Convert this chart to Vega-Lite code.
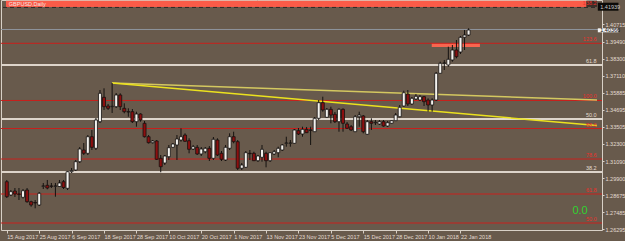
{
  "$schema": "https://vega.github.io/schema/vega-lite/v6.json",
  "width": 601,
  "height": 230,
  "autosize": {"type": "none"},
  "padding": {"left": 1, "top": 0, "right": 23, "bottom": 11},
  "background": "#685a4c",
  "config": {
    "view": {"stroke": "#d8d0c6", "strokeWidth": 1, "fill": "#685a4c"},
    "font": "Liberation Sans",
    "axis": {"labelOverlap": false, "labelFlush": false, "labelBound": false, "grid": false, "domain": false, "labelFontSize": 5.5, "labelColor": "#e4dcd2", "tickColor": "#d8d0c6", "labelPadding": 1}
  },
  "datasets": {
    "candles": [
      {"i":0,"o":1.29643,"h":1.29763,"l":1.28497,"c":1.28588},
      {"i":1,"o":1.28708,"h":1.29059,"l":1.28637,"c":1.28940},
      {"i":2,"o":1.28989,"h":1.29200,"l":1.28567,"c":1.28778},
      {"i":3,"o":1.28778,"h":1.29200,"l":1.28356,"c":1.28757},
      {"i":4,"o":1.28546,"h":1.29130,"l":1.28462,"c":1.29010},
      {"i":5,"o":1.29059,"h":1.29200,"l":1.28166,"c":1.28236},
      {"i":6,"o":1.28236,"h":1.28307,"l":1.27885,"c":1.28004},
      {"i":7,"o":1.28180,"h":1.28356,"l":1.27772,"c":1.28145},
      {"i":8,"o":1.28004,"h":1.28919,"l":1.27934,"c":1.28827},
      {"i":9,"o":1.29320,"h":1.29552,"l":1.29130,"c":1.29341},
      {"i":10,"o":1.29390,"h":1.29763,"l":1.29109,"c":1.29200},
      {"i":11,"o":1.29341,"h":1.29552,"l":1.29200,"c":1.29320},
      {"i":12,"o":1.29320,"h":1.29552,"l":1.28588,"c":1.29341},
      {"i":13,"o":1.29306,"h":1.29763,"l":1.29270,"c":1.29552},
      {"i":14,"o":1.29643,"h":1.29763,"l":1.29130,"c":1.29235},
      {"i":15,"o":1.29179,"h":1.30400,"l":1.29059,"c":1.30347},
      {"i":16,"o":1.30347,"h":1.30607,"l":1.30255,"c":1.30431},
      {"i":17,"o":1.30466,"h":1.31170,"l":1.30396,"c":1.31050},
      {"i":18,"o":1.31050,"h":1.32084,"l":1.30959,"c":1.31943},
      {"i":19,"o":1.31873,"h":1.32365,"l":1.31521,"c":1.31641},
      {"i":20,"o":1.31641,"h":1.32928,"l":1.31521,"c":1.32808},
      {"i":21,"o":1.32808,"h":1.33280,"l":1.31873,"c":1.32063},
      {"i":22,"o":1.31993,"h":1.34124,"l":1.31873,"c":1.33983},
      {"i":23,"o":1.33864,"h":1.36093,"l":1.33772,"c":1.35861},
      {"i":24,"o":1.35580,"h":1.36213,"l":1.34687,"c":1.34919},
      {"i":25,"o":1.34968,"h":1.35109,"l":1.34687,"c":1.34806},
      {"i":26,"o":1.34919,"h":1.36586,"l":1.34476,"c":1.34947},
      {"i":27,"o":1.34919,"h":1.35882,"l":1.34827,"c":1.35742},
      {"i":28,"o":1.35742,"h":1.35861,"l":1.34687,"c":1.34919},
      {"i":29,"o":1.34806,"h":1.35158,"l":1.34454,"c":1.34567},
      {"i":30,"o":1.34567,"h":1.34806,"l":1.34215,"c":1.34546},
      {"i":31,"o":1.34567,"h":1.34757,"l":1.33772,"c":1.33864},
      {"i":32,"o":1.33864,"h":1.34567,"l":1.33512,"c":1.34405},
      {"i":33,"o":1.34405,"h":1.34454,"l":1.33864,"c":1.33983},
      {"i":34,"o":1.33751,"h":1.33913,"l":1.32752,"c":1.32808},
      {"i":35,"o":1.32808,"h":1.32928,"l":1.32330,"c":1.32386},
      {"i":36,"o":1.32386,"h":1.32576,"l":1.32330,"c":1.32506},
      {"i":37,"o":1.32506,"h":1.32576,"l":1.31170,"c":1.31219},
      {"i":38,"o":1.31289,"h":1.31521,"l":1.30304,"c":1.30698},
      {"i":39,"o":1.30959,"h":1.31521,"l":1.30818,"c":1.31451},
      {"i":40,"o":1.31402,"h":1.32225,"l":1.31170,"c":1.32035},
      {"i":41,"o":1.32063,"h":1.32365,"l":1.32014,"c":1.32295},
      {"i":42,"o":1.32225,"h":1.32928,"l":1.31170,"c":1.32647},
      {"i":43,"o":1.32576,"h":1.33399,"l":1.32457,"c":1.32808},
      {"i":44,"o":1.32928,"h":1.33048,"l":1.32457,"c":1.32485},
      {"i":45,"o":1.32527,"h":1.32696,"l":1.31641,"c":1.31922},
      {"i":46,"o":1.31943,"h":1.32225,"l":1.31873,"c":1.32105},
      {"i":47,"o":1.32063,"h":1.32225,"l":1.31521,"c":1.31592},
      {"i":48,"o":1.31592,"h":1.32084,"l":1.31451,"c":1.31943},
      {"i":49,"o":1.31753,"h":1.32084,"l":1.31641,"c":1.31993},
      {"i":50,"o":1.31993,"h":1.32154,"l":1.31099,"c":1.31289},
      {"i":51,"o":1.31289,"h":1.32787,"l":1.31170,"c":1.32626},
      {"i":52,"o":1.32576,"h":1.32696,"l":1.31451,"c":1.31521},
      {"i":53,"o":1.31641,"h":1.31803,"l":1.31099,"c":1.31219},
      {"i":54,"o":1.31170,"h":1.32225,"l":1.31099,"c":1.32063},
      {"i":55,"o":1.31993,"h":1.33048,"l":1.31873,"c":1.32808},
      {"i":56,"o":1.32808,"h":1.33160,"l":1.32344,"c":1.32457},
      {"i":57,"o":1.32457,"h":1.32576,"l":1.30466,"c":1.30586},
      {"i":58,"o":1.30586,"h":1.30959,"l":1.30466,"c":1.30818},
      {"i":59,"o":1.30656,"h":1.31803,"l":1.30607,"c":1.31683},
      {"i":60,"o":1.31641,"h":1.31873,"l":1.31170,"c":1.31613},
      {"i":61,"o":1.31641,"h":1.31753,"l":1.31099,"c":1.31120},
      {"i":62,"o":1.31120,"h":1.31521,"l":1.31029,"c":1.31451},
      {"i":63,"o":1.31360,"h":1.32225,"l":1.31050,"c":1.31922},
      {"i":64,"o":1.31641,"h":1.31753,"l":1.30656,"c":1.31120},
      {"i":65,"o":1.31120,"h":1.31732,"l":1.31029,"c":1.31683},
      {"i":66,"o":1.31592,"h":1.31873,"l":1.31521,"c":1.31753},
      {"i":67,"o":1.31683,"h":1.32105,"l":1.31360,"c":1.31993},
      {"i":68,"o":1.31873,"h":1.32295,"l":1.31803,"c":1.32225},
      {"i":69,"o":1.32344,"h":1.32808,"l":1.32105,"c":1.32365},
      {"i":70,"o":1.32344,"h":1.32576,"l":1.32105,"c":1.32365},
      {"i":71,"o":1.32344,"h":1.33350,"l":1.32295,"c":1.33280},
      {"i":72,"o":1.33230,"h":1.33420,"l":1.32928,"c":1.32998},
      {"i":73,"o":1.32998,"h":1.33512,"l":1.32808,"c":1.33329},
      {"i":74,"o":1.33329,"h":1.33491,"l":1.33069,"c":1.33090},
      {"i":75,"o":1.33280,"h":1.33512,"l":1.32225,"c":1.33259},
      {"i":76,"o":1.33160,"h":1.34194,"l":1.33139,"c":1.34103},
      {"i":77,"o":1.34103,"h":1.35390,"l":1.33983,"c":1.35200},
      {"i":78,"o":1.35200,"h":1.35622,"l":1.34567,"c":1.34687},
      {"i":79,"o":1.34173,"h":1.34827,"l":1.34124,"c":1.34736},
      {"i":80,"o":1.34736,"h":1.34919,"l":1.33751,"c":1.34335},
      {"i":81,"o":1.34384,"h":1.34546,"l":1.33772,"c":1.33864},
      {"i":82,"o":1.33864,"h":1.34806,"l":1.33160,"c":1.34736},
      {"i":83,"o":1.34736,"h":1.34806,"l":1.33160,"c":1.33751},
      {"i":84,"o":1.33702,"h":1.33843,"l":1.33350,"c":1.33399},
      {"i":85,"o":1.33512,"h":1.33631,"l":1.33209,"c":1.33280},
      {"i":86,"o":1.33160,"h":1.34335,"l":1.33139,"c":1.34215},
      {"i":87,"o":1.34215,"h":1.34567,"l":1.33512,"c":1.34335},
      {"i":88,"o":1.34265,"h":1.34335,"l":1.33048,"c":1.33160},
      {"i":89,"o":1.32977,"h":1.33983,"l":1.32928,"c":1.33864},
      {"i":90,"o":1.33864,"h":1.34103,"l":1.33280,"c":1.33751},
      {"i":91,"o":1.33793,"h":1.33983,"l":1.33631,"c":1.33821},
      {"i":92,"o":1.33702,"h":1.33983,"l":1.33631,"c":1.33864},
      {"i":93,"o":1.33864,"h":1.33983,"l":1.33512,"c":1.33561},
      {"i":94,"o":1.33561,"h":1.33913,"l":1.33491,"c":1.33793},
      {"i":95,"o":1.33751,"h":1.33983,"l":1.33702,"c":1.33934},
      {"i":96,"o":1.33934,"h":1.34476,"l":1.33913,"c":1.34335},
      {"i":97,"o":1.34215,"h":1.35038,"l":1.34173,"c":1.34876},
      {"i":98,"o":1.34968,"h":1.36044,"l":1.34919,"c":1.35903},
      {"i":99,"o":1.35812,"h":1.36093,"l":1.34968,"c":1.35109},
      {"i":100,"o":1.35109,"h":1.35601,"l":1.35038,"c":1.35510},
      {"i":101,"o":1.35460,"h":1.35812,"l":1.35390,"c":1.35650},
      {"i":102,"o":1.35390,"h":1.35742,"l":1.35320,"c":1.35622},
      {"i":103,"o":1.35622,"h":1.35672,"l":1.34968,"c":1.35270},
      {"i":104,"o":1.35390,"h":1.35510,"l":1.34567,"c":1.35038},
      {"i":105,"o":1.35038,"h":1.35510,"l":1.34567,"c":1.35390},
      {"i":106,"o":1.35390,"h":1.37360,"l":1.35320,"c":1.37268},
      {"i":107,"o":1.37268,"h":1.38084,"l":1.37268,"c":1.37971},
      {"i":108,"o":1.37971,"h":1.38204,"l":1.37500,"c":1.37993},
      {"i":109,"o":1.37852,"h":1.39139,"l":1.37732,"c":1.38253},
      {"i":110,"o":1.38204,"h":1.39259,"l":1.38084,"c":1.38907},
      {"i":111,"o":1.38907,"h":1.39610,"l":1.38323,"c":1.38436},
      {"i":112,"o":1.38766,"h":1.39892,"l":1.38626,"c":1.39800},
      {"i":113,"o":1.39800,"h":1.40314,"l":1.38907,"c":1.39962},
      {"i":114,"o":1.39962,"h":1.40433,"l":1.39892,"c":1.40314}
    ],
    "redlines": [
      {"p":1.39378,"lab":"123.6"},
      {"p":1.35355,"lab":"100.0"},
      {"p":1.33385,"lab":"88.6"},
      {"p":1.31240,"lab":"78.6"},
      {"p":1.28778,"lab":"61.8"},
      {"p":1.26738,"lab":"50.0"}
    ],
    "whitelines": [
      {"p":1.37852,"lab":"61.8"},
      {"p":1.34053,"lab":"50.0"},
      {"p":1.30326,"lab":"38.2"}
    ]
  },
  "layer": [
    {
      "data": {"name": "candles"},
      "mark": {"type": "rule", "color": "#151210", "strokeWidth": 1},
      "encoding": {
        "x": {"field":"i","type":"quantitative","title":null,"scale":{"domain":[-0.2,145.7],"nice":false,"zero":false},
          "axis": {"orient":"bottom","values":[0,8,16,24,32,40,48,56,64,72,80,88,96,104,112],"tickCount":40,
            "labelExpr":"['15 Aug 2017','25 Aug 2017','6 Sep 2017','18 Sep 2017','28 Sep 2017','10 Oct 2017','20 Oct 2017','1 Nov 2017','13 Nov 2017','23 Nov 2017','5 Dec 2017','15 Dec 2017','28 Dec 2017','10 Jan 2018','22 Jan 2018'][round(datum.value/8)]",
            "labelAlign":"left","tickSize":3,"title":null}},
        "y": {"field":"l","type":"quantitative","title":null,"scale":{"domain":[1.26246,1.42424],"nice":false,"zero":false},
          "axis": {"orient":"right","values":[1.40715,1.3949,1.383,1.3711,1.35885,1.34695,1.33505,1.323,1.3109,1.299,1.28675,1.27485,1.26295],"tickCount":40,
            "format":".5f","tickSize":2,"title":null}},
        "y2": {"field":"h"},
        "opacity": {"value": 0}
      }
    },
    {
      "data": {"values": [{"i1":-0.2,"i2":143.1,"p1":1.41939,"p2":1.42380}]},
      "mark": {"type": "rect", "color": "#fa5b48"},
      "encoding": {
        "x": {"field":"i1","type":"quantitative","title":null},
        "x2": {"field":"i2"},
        "y": {"field":"p1","type":"quantitative","title":null},
        "y2": {"field":"p2"}
      }
    },
    {
      "data": {"values": [{"i1":143.1,"i2":145.7,"p1":1.41939,"p2":1.42380}]},
      "mark": {"type": "rect", "color": "#3a2e27"},
      "encoding": {
        "x": {"field":"i1","type":"quantitative","title":null},
        "x2": {"field":"i2"},
        "y": {"field":"p1","type":"quantitative","title":null},
        "y2": {"field":"p2"}
      }
    },
    {
      "data": {"values": [{"i1":104.9,"i2":116.8,"p1":1.39118,"p2":1.39399}]},
      "mark": {"type": "rect", "color": "#f8654f"},
      "encoding": {
        "x": {"field":"i1","type":"quantitative","title":null},
        "x2": {"field":"i2"},
        "y": {"field":"p1","type":"quantitative","title":null},
        "y2": {"field":"p2"}
      }
    },
    {
      "data": {"values": [{"p":1.41900}]},
      "mark": {"type": "rule", "color": "#2e2a28", "strokeDash": [4, 3], "strokeWidth": 1},
      "encoding": {"y": {"field":"p","type":"quantitative","title":null}}
    },
    {
      "data": {"values": [{"p":1.40350}]},
      "mark": {"type": "rule", "color": "#8e949c", "strokeWidth": 1},
      "encoding": {"y": {"field":"p","type":"quantitative","title":null}}
    },
    {
      "data": {"name": "redlines"},
      "mark": {"type": "rule", "color": "#c8201c", "strokeWidth": 1},
      "encoding": {"y": {"field":"p","type":"quantitative","title":null}}
    },
    {
      "data": {"name": "whitelines"},
      "mark": {"type": "rule", "color": "#ddd4ca", "strokeWidth": 2},
      "encoding": {"y": {"field":"p","type":"quantitative","title":null}}
    },
    {
      "data": {"values": [{"i1":26,"p1":1.36586,"i2":145.7,"p2":1.35390}]},
      "mark": {"type": "rule", "strokeWidth": 1.5, "color": "#d4c860"},
      "encoding": {
        "x": {"field":"i1","type":"quantitative","title":null},
        "x2": {"field":"i2"},
        "y": {"field":"p1","type":"quantitative","title":null},
        "y2": {"field":"p2"}
      }
    },
    {
      "data": {"values": [{"i1":26,"p1":1.36586,"i2":145.7,"p2":1.33596}]},
      "mark": {"type": "rule", "strokeWidth": 1.5, "color": "#ece21e"},
      "encoding": {
        "x": {"field":"i1","type":"quantitative","title":null},
        "x2": {"field":"i2"},
        "y": {"field":"p1","type":"quantitative","title":null},
        "y2": {"field":"p2"}
      }
    },
    {
      "data": {"name": "candles"},
      "mark": {"type": "rule", "color": "#151210", "strokeWidth": 1},
      "encoding": {
        "x": {"field":"i","type":"quantitative","title":null},
        "y": {"field":"l","type":"quantitative","title":null},
        "y2": {"field":"h"}
      }
    },
    {
      "data": {"name": "candles"},
      "mark": {"type": "bar", "width": 3, "stroke": "#151210", "strokeWidth": 0.8},
      "encoding": {
        "x": {"field":"i","type":"quantitative","title":null},
        "y": {"field":"o","type":"quantitative","title":null},
        "y2": {"field":"c"},
        "fill": {"condition": {"test": "datum.c >= datum.o", "value": "#f4f2ee"}, "value": "#8c0f0f"}
      }
    },
    {
      "data": {"name": "redlines"},
      "mark": {"type": "text", "align": "right", "baseline": "bottom", "dy": -1, "fontSize": 5.5, "color": "#e8302a"},
      "encoding": {
        "x": {"datum": 145.6, "type":"quantitative","title":null},
        "y": {"field":"p","type":"quantitative","title":null},
        "text": {"field":"lab"}
      }
    },
    {
      "data": {"name": "whitelines"},
      "mark": {"type": "text", "align": "right", "baseline": "bottom", "dy": -1, "fontSize": 5.5, "color": "#e4dcd2"},
      "encoding": {
        "x": {"datum": 145.6, "type":"quantitative","title":null},
        "y": {"field":"p","type":"quantitative","title":null},
        "text": {"field":"lab"}
      }
    },
    {
      "data": {"values": [{"p":1.4196,"lab":"138.2"}]},
      "mark": {"type": "text", "align": "right", "baseline": "bottom", "dy": -1, "fontSize": 5.5, "color": "#e8302a"},
      "encoding": {
        "x": {"datum": 145.6, "type":"quantitative","title":null},
        "y": {"field":"p","type":"quantitative","title":null},
        "text": {"field":"lab"}
      }
    },
    {
      "data": {"values": [{"p":1.27582,"lab":"0.0"}]},
      "mark": {"type": "text", "align": "right", "baseline": "middle", "fontSize": 11, "color": "#2fd42f"},
      "encoding": {
        "x": {"datum": 143.4, "type":"quantitative","title":null},
        "y": {"field":"p","type":"quantitative","title":null},
        "text": {"field":"lab"}
      }
    },
    {
      "data": {"values": [{"p":1.4214,"lab":"GBPUSD,Daily"}]},
      "mark": {"type": "text", "align": "left", "baseline": "middle", "fontSize": 5.5, "color": "#f4e4e0"},
      "encoding": {
        "x": {"datum": 0.5, "type":"quantitative","title":null},
        "y": {"field":"p","type":"quantitative","title":null},
        "text": {"field":"lab"}
      }
    },
    {
      "data": {"values": [{"i1":145.9,"i2":151,"p1":1.41671,"p2":1.42234}]},
      "mark": {"type": "rect", "color": "#0c0a08"},
      "encoding": {
        "x": {"field":"i1","type":"quantitative","title":null},
        "x2": {"field":"i2"},
        "y": {"field":"p1","type":"quantitative","title":null},
        "y2": {"field":"p2"}
      }
    },
    {
      "data": {"values": [{"i1":145.9,"i2":151,"p1":1.40152,"p2":1.40433}]},
      "mark": {"type": "rect", "color": "#f4f4f4"},
      "encoding": {
        "x": {"field":"i1","type":"quantitative","title":null},
        "x2": {"field":"i2"},
        "y": {"field":"p1","type":"quantitative","title":null},
        "y2": {"field":"p2"}
      }
    },
    {
      "data": {"values": [{"p":1.41952,"lab":"1.41939"}]},
      "mark": {"type": "text", "align": "left", "baseline": "middle", "fontSize": 5.5, "color": "#c8c8c8"},
      "encoding": {
        "x": {"datum": 146.5, "type":"quantitative","title":null},
        "y": {"field":"p","type":"quantitative","title":null},
        "text": {"field":"lab"}
      }
    },
    {
      "data": {"values": [{"p":1.40292,"lab":"1.40366"}]},
      "mark": {"type": "text", "align": "left", "baseline": "middle", "fontSize": 5.5, "color": "#101010"},
      "encoding": {
        "x": {"datum": 146.5, "type":"quantitative","title":null},
        "y": {"field":"p","type":"quantitative","title":null},
        "text": {"field":"lab"}
      }
    }
  ]
}
